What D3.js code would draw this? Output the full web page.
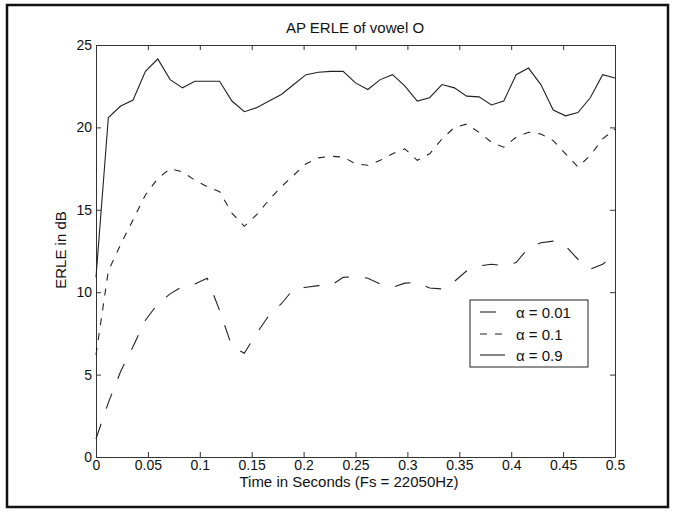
<!DOCTYPE html>
<html>
<head>
<meta charset="utf-8">
<script src="https://cdn.jsdelivr.net/npm/d3@7"></script>
<style>
  body { margin: 0; background: #fff; }
  text { font-family: "Liberation Sans", Arial, Helvetica, sans-serif; fill: #111; }
</style>
</head>
<body>
<svg id="chart" width="675" height="516"></svg>
<script>
// ERLE (dB) per analysis frame, AP filter on vowel O, for three step sizes
const seriesLabels = ["α = 0.01", "α = 0.1", "α = 0.9"];
const erleAlpha001 = [1.1, 3.3, 5.2, 6.7, 8.3, 9.3, 9.9, 10.35, 10.5, 10.85, 8.9, 6.7, 6.3, 7.5, 8.6,
  9.3, 10.2, 10.3, 10.4, 10.4, 10.9, 10.95, 10.85, 10.5, 10.3, 10.55, 10.6, 10.25, 10.2, 10.65,
  11.3, 11.6, 11.7, 11.6, 11.8, 12.7, 13.0, 13.1, 12.8, 12.0, 11.4, 11.7, 12.3];
const erleAlpha01 = [6.2, 11.3, 12.9, 14.4, 15.9, 16.9, 17.5, 17.3, 16.8, 16.4, 16.1, 14.8, 14.0, 14.7,
  15.6, 16.4, 17.1, 17.8, 18.15, 18.25, 18.2, 17.8, 17.7, 18.0, 18.4, 18.7, 18.0, 18.4, 19.3, 20.0,
  20.2, 19.7, 19.1, 18.8, 19.4, 19.7, 19.6, 19.2, 18.4, 17.6, 18.3, 19.3, 19.9];
const erleAlpha09 = [10.9, 20.6, 21.3, 21.66, 23.4, 24.15, 22.9, 22.4, 22.8, 22.8, 22.8, 21.6, 20.95,
  21.2, 21.6, 22.0, 22.6, 23.2, 23.35, 23.4, 23.4, 22.7, 22.3, 22.9, 23.2, 22.5, 21.6, 21.8, 22.6,
  22.4, 21.9, 21.85, 21.36, 21.6, 23.2, 23.6, 22.6, 21.05, 20.7, 20.9, 21.8, 23.2, 23.0];
const xTicks = [0, 0.05, 0.1, 0.15, 0.2, 0.25, 0.3, 0.35, 0.4, 0.45, 0.5];
const yTicks = [0, 5, 10, 15, 20, 25];
const duration = 0.5; // seconds shown on the time axis

// frame times: frames evenly spaced over the analysed half second
const frameTimes = d3.range(erleAlpha09.length).map(i => i * duration / (erleAlpha09.length - 1));

const svg = d3.select("#chart");
const plot = { left: 96, right: 615, top: 45, bottom: 457 };

const x = d3.scaleLinear().domain([0, duration]).range([plot.left, plot.right]);
const y = d3.scaleLinear().domain([0, 25]).range([plot.bottom, plot.top]);

// outer figure frame
svg.append("rect")
  .attr("x", 7).attr("y", 5).attr("width", 661).attr("height", 502)
  .attr("fill", "none").attr("stroke", "#111").attr("stroke-width", 2.5);

const fmt = d => String(+d.toFixed(2));

// axes with inward ticks on all four sides
const axisBottomG = svg.append("g").attr("transform", `translate(0,${plot.bottom})`)
  .call(d3.axisBottom(x).tickValues(xTicks).tickFormat(fmt).tickSizeInner(-5).tickSizeOuter(0).tickPadding(3));
const axisLeftG = svg.append("g").attr("transform", `translate(${plot.left},0)`)
  .call(d3.axisLeft(y).tickValues(yTicks).tickFormat(fmt).tickSizeInner(-5).tickSizeOuter(0).tickPadding(4));
const axisTopG = svg.append("g").attr("transform", `translate(0,${plot.top})`)
  .call(d3.axisTop(x).tickValues(xTicks).tickFormat("").tickSizeInner(-5).tickSizeOuter(0));
const axisRightG = svg.append("g").attr("transform", `translate(${plot.right},0)`)
  .call(d3.axisRight(y).tickValues(yTicks).tickFormat("").tickSizeInner(-5).tickSizeOuter(0));

[axisBottomG, axisLeftG, axisTopG, axisRightG].forEach(g => {
  g.selectAll("path.domain").attr("stroke", "#333").attr("stroke-width", 1);
  g.selectAll(".tick line").attr("stroke", "#333");
  g.selectAll("text").style("font-size", "14px").attr("fill", "#111")
    .style("font-family", "'Liberation Sans', Arial, sans-serif");
});

// data lines
const series = [
  { values: erleAlpha001, dash: "16,16", label: seriesLabels[0] },
  { values: erleAlpha01, dash: "7,8", label: seriesLabels[1] },
  { values: erleAlpha09, dash: null, label: seriesLabels[2] }
];
const line = d3.line().x((d, i) => x(frameTimes[i])).y(d => y(d));

svg.append("g").selectAll("path").data(series).join("path")
  .attr("d", s => line(s.values))
  .attr("fill", "none")
  .attr("stroke", "#222")
  .attr("stroke-width", 1.1)
  .attr("stroke-dasharray", s => s.dash);

// title and axis labels
svg.append("text").attr("x", 355).attr("y", 33).attr("text-anchor", "middle")
  .style("font-size", "15px").text("AP ERLE of vowel O");
svg.append("text").attr("x", 349).attr("y", 487).attr("text-anchor", "middle")
  .style("font-size", "15px").text("Time in Seconds (Fs = 22050Hz)");
svg.append("text").attr("transform", "translate(66,250) rotate(-90)").attr("text-anchor", "middle")
  .style("font-size", "15px").text("ERLE in dB");

// legend
const legend = svg.append("g");
legend.append("rect").attr("x", 470).attr("y", 300).attr("width", 118).attr("height", 67)
  .attr("fill", "#fff").attr("stroke", "#222").attr("stroke-width", 1);
const rows = [312, 334, 355];
series.forEach((s, i) => {
  legend.append("line").attr("x1", 480).attr("x2", 505).attr("y1", rows[i]).attr("y2", rows[i])
    .attr("stroke", "#222").attr("stroke-width", 1.1).attr("stroke-dasharray", s.dash);
  legend.append("text").attr("x", 516).attr("y", rows[i] + 6)
    .style("font-size", "15px").text(s.label);
});
</script>
</body>
</html>
